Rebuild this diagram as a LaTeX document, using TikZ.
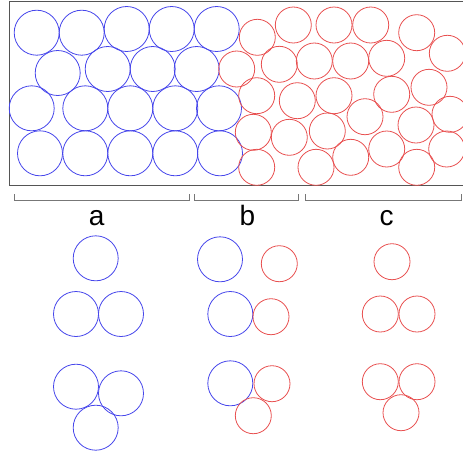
\documentclass[tikz,border=0pt]{standalone}
\usepackage{fontspec}
\setmainfont{Liberation Sans}
\usepackage{tikz}
\usetikzlibrary{positioning,calc}
\definecolor{grainblue}{RGB}{70, 70, 235}
\definecolor{grainred}{RGB}{232, 80, 80}
\definecolor{framegray}{RGB}{85, 85, 85}

\begin{document}
\begin{tikzpicture}[
    x=0.75pt, y=-0.75pt,
    bluegrain/.style={
        circle, draw=grainblue, line width=0.6pt,
        minimum size=33.75pt, inner sep=0pt
    },
    redgrain/.style={
        circle, draw=grainred, line width=0.6pt,
        minimum size=27pt, inner sep=0pt
    },
    brace/.style={draw=framegray!80, line width=0.6pt},
    zonelabel/.style={font=\fontsize{21}{24}\selectfont, inner sep=0pt, anchor=base}
]
    \useasboundingbox (0,0) rectangle (463,454);
    \clip (0,0) rectangle (463,454);

    % sample box
    \draw[framegray, line width=0.7pt] (475,1) -- (9,1) -- (9,185) -- (475,185);

    % blue grains
    \foreach \x/\y [count=\i] in {36.7/32.7, 81.7/32.7, 126.7/29, 171.7/29, 216.7/29,
        57.7/73, 107.7/69, 152.7/69, 196.7/69,
        31.7/108.3, 85.3/108.3, 130.3/108.3, 175.3/108.3, 219/108.3,
        40/153.3, 85.3/153.3, 130.3/153.3, 175.3/153.3, 220/153.3}
        \node[bluegrain] (blue\i) at (\x,\y) {};

    % red grains
    \foreach \x/\y [count=\i] in {257.3/37.3, 293.3/25, 334/25, 370.7/25, 416.7/32.7, 447.3/53.3,
        236.7/69, 279.3/64.3, 314.3/61, 350.7/61, 386.7/58.3,
        256.7/95.7, 297.3/100.7, 334/95.7, 391.7/94.3, 429/87.3,
        365/116.7, 450/114.3,
        253.3/132.3, 289.3/137.3, 327.3/131, 416/125,
        256.7/167.3, 316/167.3, 350.7/157.3, 386.7/149, 416.7/167.3, 446.7/149}
        \node[redgrain] (red\i) at (\x,\y) {};

    % zone brackets
    \draw[brace] (14.3,194) -- (14.3,200) -- (189,200) -- (189,194);
    \draw[brace] (194.3,194) -- (194.3,200) -- (298.3,200) -- (298.3,194);
    \draw[brace] (305.7,194) -- (305.7,200) -- (461,200) -- (461,194);

    \node[zonelabel] (labela) at (96.7,225) {a};
    \node[zonelabel] (labelb) at (247.3,225) {b};
    \node[zonelabel] (labelc) at (386.7,225) {c};

    % zone a clusters
    \node[bluegrain] (a1) at (95.7,258.3) {};
    \node[bluegrain] (a2) at (76,314) {};
    \node[bluegrain] (a3) at (121,314) {};
    \node[bluegrain] (a4) at (76,386.7) {};
    \node[bluegrain] (a5) at (121,393.3) {};
    \node[bluegrain] (a6) at (95.7,427.7) {};

    % zone b clusters
    \node[bluegrain] (b1) at (220,259.3) {};
    \node[redgrain]  (b2) at (279.3,263.7) {};
    \node[bluegrain] (b3) at (230.3,314) {};
    \node[redgrain]  (b4) at (271,316.7) {};
    \node[bluegrain] (b5) at (230.3,383.3) {};
    \node[redgrain]  (b6) at (272,383.7) {};
    \node[redgrain]  (b7) at (253.3,415.7) {};

    % zone c clusters
    \node[redgrain] (c1) at (392,261.7) {};
    \node[redgrain] (c2) at (380.3,314) {};
    \node[redgrain] (c3) at (417,314) {};
    \node[redgrain] (c4) at (380.3,381.7) {};
    \node[redgrain] (c5) at (417,381.7) {};
    \node[redgrain] (c6) at (401,412.7) {};
\end{tikzpicture}
\end{document}
